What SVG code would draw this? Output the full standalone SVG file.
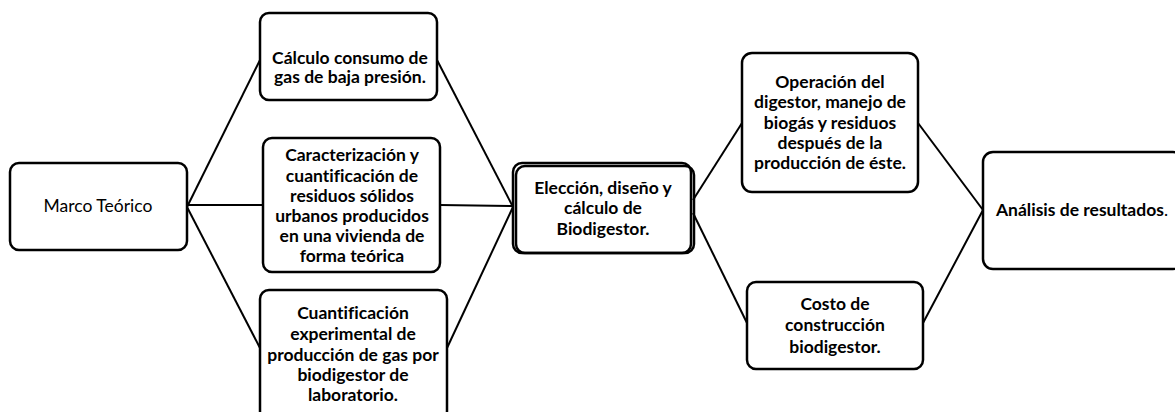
<svg xmlns="http://www.w3.org/2000/svg" width="1175" height="412" viewBox="0 0 1175 412">
<style>
.box{fill:#fff;stroke:#000;stroke-width:2.5}
.c{fill:none;stroke:#000;stroke-width:2}
text{font-family:Lato,"Liberation Sans",sans-serif;font-size:17.5px;fill:#000;text-anchor:middle;font-variant-ligatures:none}
.b{font-weight:bold}
</style>
<rect width="1175" height="412" fill="#fff"/>
<g id="connectors">
<line class="c" x1="187" y1="207" x2="260" y2="60"/>
<line class="c" x1="187" y1="205" x2="263" y2="205"/>
<line class="c" x1="187" y1="207" x2="260" y2="348"/>
<line class="c" x1="437" y1="60" x2="513" y2="207"/>
<line class="c" x1="440" y1="205" x2="513" y2="206"/>
<line class="c" x1="447" y1="348" x2="513" y2="207"/>
<line class="c" x1="693" y1="200" x2="742" y2="123"/>
<line class="c" x1="693" y1="213" x2="747" y2="323"/>
<line class="c" x1="918" y1="123" x2="983" y2="210"/>
<line class="c" x1="923" y1="323" x2="983" y2="210"/>
</g>
<g id="marco">
<rect class="box" x="10" y="163" width="177" height="87" rx="9"/>
<text x="98" y="212">Marco Teórico</text>
</g>
<g id="calculo">
<rect class="box" x="260" y="13" width="177" height="87" rx="9"/>
<text class="b" x="350" y="64">Cálculo consumo de</text>
<text class="b" x="350" y="83">gas de baja presión.</text>
</g>
<g id="caracterizacion">
<rect class="box" x="263" y="138" width="177" height="134" rx="9"/>
<text class="b" x="352" y="161">Caracterización y</text>
<text class="b" x="352" y="182">cuantificación de</text>
<text class="b" x="352" y="202">residuos sólidos</text>
<text class="b" x="352" y="222">urbanos producidos</text>
<text class="b" x="352" y="242">en una vivienda de</text>
<text class="b" x="352" y="262">forma teórica</text>
</g>
<g id="cuantificacion">
<rect class="box" x="260" y="290" width="187" height="130" rx="9"/>
<text class="b" x="353" y="319">Cuantificación</text>
<text class="b" x="353" y="340">experimental de</text>
<text class="b" x="353" y="361">producción de gas por</text>
<text class="b" x="353" y="381">biodigestor de</text>
<text class="b" x="353" y="401">laboratorio.</text>
</g>
<g id="eleccion">
<rect class="box" x="513" y="163" width="178" height="90" rx="9"/>
<rect class="box" x="516" y="166" width="178" height="87" rx="9" style="fill:none"/>
<text class="b" x="603" y="194">Elección, diseño y</text>
<text class="b" x="603" y="214">cálculo de</text>
<text class="b" x="603" y="235">Biodigestor.</text>
</g>
<g id="operacion">
<rect class="box" x="742" y="53" width="176" height="139" rx="10"/>
<text class="b" x="830" y="88">Operación del</text>
<text class="b" x="830" y="108">digestor, manejo de</text>
<text class="b" x="830" y="129">biogás y residuos</text>
<text class="b" x="830" y="149">después de la</text>
<text class="b" x="830" y="169">producción de éste.</text>
</g>
<g id="costo">
<rect class="box" x="747" y="282" width="176" height="87" rx="9"/>
<text class="b" x="835" y="310">Costo de</text>
<text class="b" x="835" y="331">construcción</text>
<text class="b" x="835" y="353">biodigestor.</text>
</g>
<g id="analisis">
<rect class="box" x="983" y="152" width="200" height="117" rx="10"/>
<text x="1082" y="216"><tspan class="b">Análisis de resultados</tspan>.</text>
</g>
</svg>
